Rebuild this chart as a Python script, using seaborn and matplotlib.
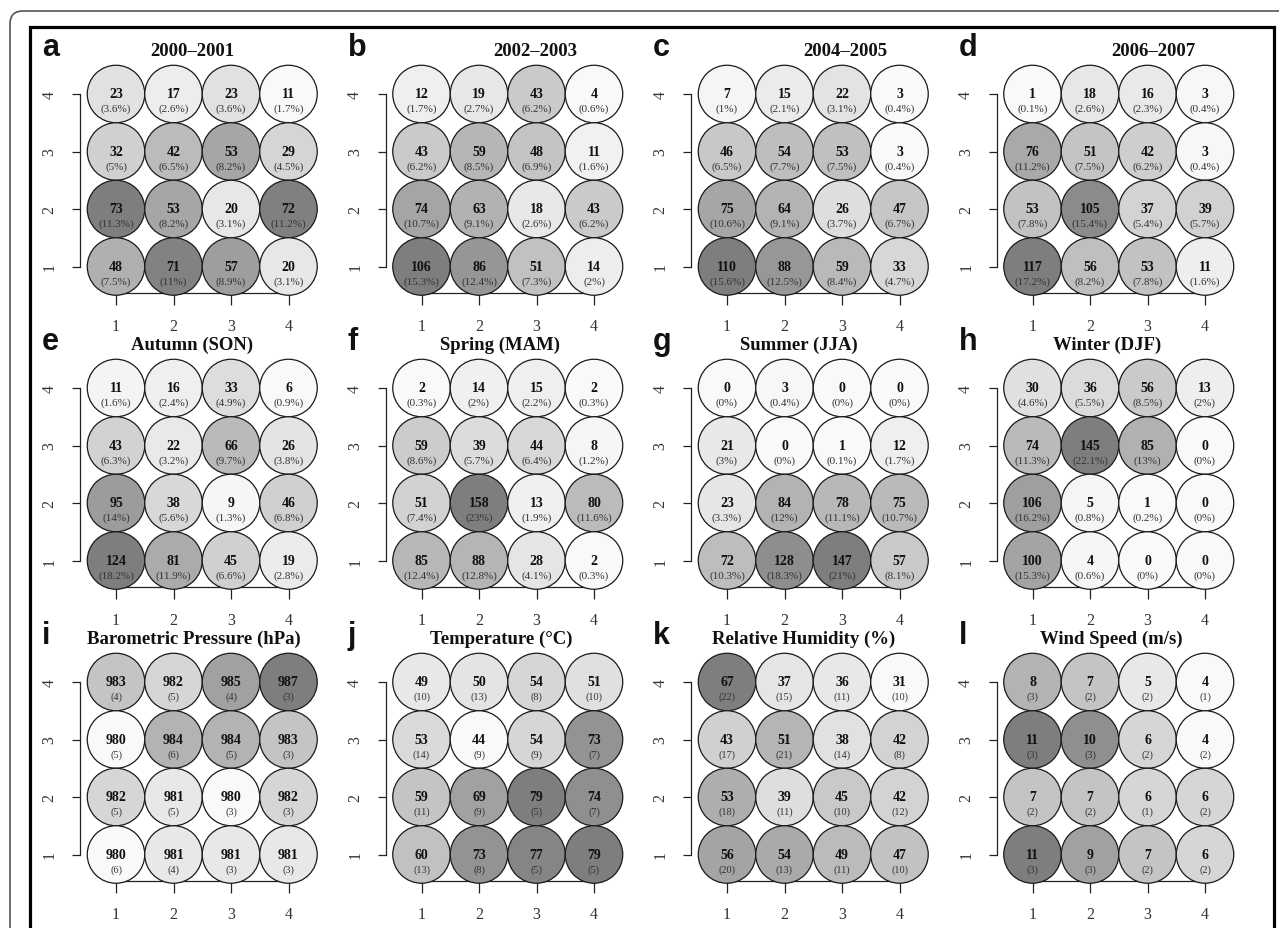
import matplotlib
matplotlib.use("Agg")
import matplotlib.pyplot as plt
from matplotlib.colors import LinearSegmentedColormap
from matplotlib.path import Path
from matplotlib.patches import PathPatch
import pandas as pd
import seaborn as sns

# ---------------------------------------------------------------------------
# Node grids (4 x 4 SOM nodes). Each list runs from the top row (y = 4)
# down to the bottom row (y = 1), left to right (x = 1..4).
# ---------------------------------------------------------------------------
panel_letters = list("abcdefghijkl")
panel_titles = ["2000–2001", "2002–2003", "2004–2005", "2006–2007",
                "Autumn (SON)", "Spring (MAM)", "Summer (JJA)", "Winter (DJF)",
                "Barometric Pressure (hPa)", "Temperature (°C)",
                "Relative Humidity (%)", "Wind Speed (m/s)"]
grid_ticks = [1, 2, 3, 4]
grid_tick_labels = ["1", "2", "3", "4"]

# frequency counts and their share of all days (%)
counts_2000_2001 = [[23, 17, 23, 11], [32, 42, 53, 29], [73, 53, 20, 72], [48, 71, 57, 20]]
pct_2000_2001 = [[3.6, 2.6, 3.6, 1.7], [5, 6.5, 8.2, 4.5], [11.3, 8.2, 3.1, 11.2], [7.5, 11, 8.9, 3.1]]

counts_2002_2003 = [[12, 19, 43, 4], [43, 59, 48, 11], [74, 63, 18, 43], [106, 86, 51, 14]]
pct_2002_2003 = [[1.7, 2.7, 6.2, 0.6], [6.2, 8.5, 6.9, 1.6], [10.7, 9.1, 2.6, 6.2], [15.3, 12.4, 7.3, 2]]

counts_2004_2005 = [[7, 15, 22, 3], [46, 54, 53, 3], [75, 64, 26, 47], [110, 88, 59, 33]]
pct_2004_2005 = [[1, 2.1, 3.1, 0.4], [6.5, 7.7, 7.5, 0.4], [10.6, 9.1, 3.7, 6.7], [15.6, 12.5, 8.4, 4.7]]

counts_2006_2007 = [[1, 18, 16, 3], [76, 51, 42, 3], [53, 105, 37, 39], [117, 56, 53, 11]]
pct_2006_2007 = [[0.1, 2.6, 2.3, 0.4], [11.2, 7.5, 6.2, 0.4], [7.8, 15.4, 5.4, 5.7], [17.2, 8.2, 7.8, 1.6]]

counts_son = [[11, 16, 33, 6], [43, 22, 66, 26], [95, 38, 9, 46], [124, 81, 45, 19]]
pct_son = [[1.6, 2.4, 4.9, 0.9], [6.3, 3.2, 9.7, 3.8], [14, 5.6, 1.3, 6.8], [18.2, 11.9, 6.6, 2.8]]

counts_mam = [[2, 14, 15, 2], [59, 39, 44, 8], [51, 158, 13, 80], [85, 88, 28, 2]]
pct_mam = [[0.3, 2, 2.2, 0.3], [8.6, 5.7, 6.4, 1.2], [7.4, 23, 1.9, 11.6], [12.4, 12.8, 4.1, 0.3]]

counts_jja = [[0, 3, 0, 0], [21, 0, 1, 12], [23, 84, 78, 75], [72, 128, 147, 57]]
pct_jja = [[0, 0.4, 0, 0], [3, 0, 0.1, 1.7], [3.3, 12, 11.1, 10.7], [10.3, 18.3, 21, 8.1]]

counts_djf = [[30, 36, 56, 13], [74, 145, 85, 0], [106, 5, 1, 0], [100, 4, 0, 0]]
pct_djf = [[4.6, 5.5, 8.5, 2], [11.3, 22.1, 13, 0], [16.2, 0.8, 0.2, 0], [15.3, 0.6, 0, 0]]

# node means and standard deviations of the meteorological variables
mean_pressure = [[983, 982, 985, 987], [980, 984, 984, 983], [982, 981, 980, 982], [980, 981, 981, 981]]
sd_pressure = [[4, 5, 4, 3], [5, 6, 5, 3], [5, 5, 3, 3], [6, 4, 3, 3]]

mean_temperature = [[49, 50, 54, 51], [53, 44, 54, 73], [59, 69, 79, 74], [60, 73, 77, 79]]
sd_temperature = [[10, 13, 8, 10], [14, 9, 9, 7], [11, 9, 5, 7], [13, 8, 5, 5]]

mean_humidity = [[67, 37, 36, 31], [43, 51, 38, 42], [53, 39, 45, 42], [56, 54, 49, 47]]
sd_humidity = [[22, 15, 11, 10], [17, 21, 14, 8], [18, 11, 10, 12], [20, 13, 11, 10]]

mean_wind = [[8, 7, 5, 4], [11, 10, 6, 4], [7, 7, 6, 6], [11, 9, 7, 6]]
sd_wind = [[3, 2, 2, 1], [3, 3, 2, 2], [2, 2, 1, 2], [3, 3, 2, 2]]

panel_values = [counts_2000_2001, counts_2002_2003, counts_2004_2005, counts_2006_2007,
                counts_son, counts_mam, counts_jja, counts_djf,
                mean_pressure, mean_temperature, mean_humidity, mean_wind]
panel_extras = [pct_2000_2001, pct_2002_2003, pct_2004_2005, pct_2006_2007,
                pct_son, pct_mam, pct_jja, pct_djf,
                sd_pressure, sd_temperature, sd_humidity, sd_wind]
extra_is_percent = [True] * 8 + [False] * 4

# ---------------------------------------------------------------------------
# Layout (pixels)
# ---------------------------------------------------------------------------
W, H = 1279, 929
STEP = 57.5                 # node spacing
X0, DX = 116.0, 305.5       # first node column centre / panel column step
Y0, DY = 95.0, 294.0        # top node row centre / panel row step
SIDE = 4 * STEP
title_dx = [-10, 28, 32, 35, -10, -8, -14, -12, -8, -7, -10, -7]

sns.set_theme(style="white")
plt.rcParams["font.family"] = ["Liberation Serif", "DejaVu Serif"]

fig = plt.figure(figsize=(W / 100, H / 100), dpi=100)
fig.patch.set_facecolor("white")

grey_map = LinearSegmentedColormap.from_list("node_grey", ["#f9f9f9", "#7e7e7e"])
marker_d_pt = STEP * 0.72
ink = "#222222"

for i in range(12):
    r, c = divmod(i, 4)
    cx1 = X0 + DX * c
    cy4 = Y0 + DY * r
    left = cx1 - STEP / 2
    top = cy4 - STEP / 2
    ax = fig.add_axes([left / W, 1 - (top + SIDE) / H, SIDE / W, SIDE / H])

    vals = panel_values[i]
    extra = panel_extras[i]
    rows = []
    for k, yv in enumerate([4, 3, 2, 1]):
        for j, xv in enumerate(grid_ticks):
            rows.append({"x": xv, "y": yv, "value": vals[k][j], "extra": extra[k][j]})
    df = pd.DataFrame(rows)
    vmin, vmax = df["value"].min(), df["value"].max()

    sns.scatterplot(data=df, x="x", y="y", hue="value", palette=grey_map,
                    hue_norm=(vmin, vmax), s=marker_d_pt ** 2, marker="o",
                    edgecolor="#1a1a1a", linewidth=0.9, legend=False, ax=ax)
    for coll in ax.collections:
        coll.set_clip_on(False)
        coll.set_zorder(2)

    for _, row in df.iterrows():
        ax.text(row["x"], row["y"] + 0.005, f"{int(row['value'])}",
                ha="center", va="center", fontsize=10, fontweight="bold",
                color="#111111", zorder=3)
        if extra_is_percent[i]:
            sub = f"({row['extra']:g}%)"
            fs = 8
        else:
            sub = f"({row['extra']:g})"
            fs = 7.5
        ax.text(row["x"], row["y"] - 0.255, sub, ha="center", va="center",
                fontsize=fs, color="#333333", zorder=3)

    ax.set_xlim(0.5, 4.5)
    ax.set_ylim(0.5, 4.5)
    ax.set_xlabel("")
    ax.set_ylabel("")
    ax.set_facecolor("none")
    ax.set_axisbelow(True)
    ax.set_xticks(grid_ticks)
    ax.set_yticks(grid_ticks)
    ax.set_xticklabels(grid_tick_labels)
    ax.set_yticklabels(grid_tick_labels)

    for side in ("top", "right"):
        ax.spines[side].set_visible(False)
    ax.spines["left"].set_position(("outward", 7.25 * 0.72))
    ax.spines["left"].set_bounds(1, 4)
    ax.spines["bottom"].set_position(("data", 0.5 + 2.75 / STEP))
    ax.spines["bottom"].set_bounds(1, 4)
    for side in ("left", "bottom"):
        ax.spines[side].set_linewidth(0.9)
        ax.spines[side].set_color(ink)
        ax.spines[side].set_zorder(0.5)

    ax.tick_params(axis="x", length=12 * 0.72, width=0.9, color=ink, pad=9.5,
                   labelsize=11.5, labelcolor="#333333", bottom=True)
    ax.tick_params(axis="y", length=8 * 0.72, width=0.9, color=ink, pad=10.3,
                   labelsize=11.5, labelcolor="#333333", left=True,
                   labelrotation=90)
    for lab in ax.get_yticklabels():
        lab.set_verticalalignment("center")

    # panel title and letter share a baseline above the node grid
    base_frac = 1 + (39 - STEP / 2) / SIDE
    ax.text(0.5 + title_dx[i] / SIDE, base_frac, panel_titles[i],
            transform=ax.transAxes, ha="center", va="baseline",
            fontsize=13.5, fontweight="bold", color="#111111")
    fig.text((42 + DX * c) / W, 1 - (cy4 - 38.5) / H, panel_letters[i],
             ha="left", va="baseline", fontsize=22, fontweight="bold",
             family=["Liberation Sans", "DejaVu Sans"], color="#111111")


# frame lines, given in pixels from the top-left corner and converted to inches
def px(x, y):
    return (x / 100.0, (H - y) / 100.0)


rad = 13.0
ox, oy = 10.0, 12.0
outer_path = Path(
    [px(ox, H + 100), px(ox, oy + rad), px(ox, oy), px(ox + rad, oy), px(W + 100, oy)],
    [Path.MOVETO, Path.LINETO, Path.CURVE3, Path.CURVE3, Path.LINETO])
inner_path = Path(
    [px(30, H + 100), px(30, 28), px(1274, 28), px(1274, H + 100)],
    [Path.MOVETO, Path.LINETO, Path.LINETO, Path.LINETO])
fig.add_artist(PathPatch(outer_path, transform=fig.dpi_scale_trans,
                         facecolor="none", edgecolor="#555555", linewidth=1.2))
fig.add_artist(PathPatch(inner_path, transform=fig.dpi_scale_trans,
                         facecolor="none", edgecolor="black", linewidth=2.3,
                         joinstyle="miter"))

fig.savefig("out.png", dpi=100)
